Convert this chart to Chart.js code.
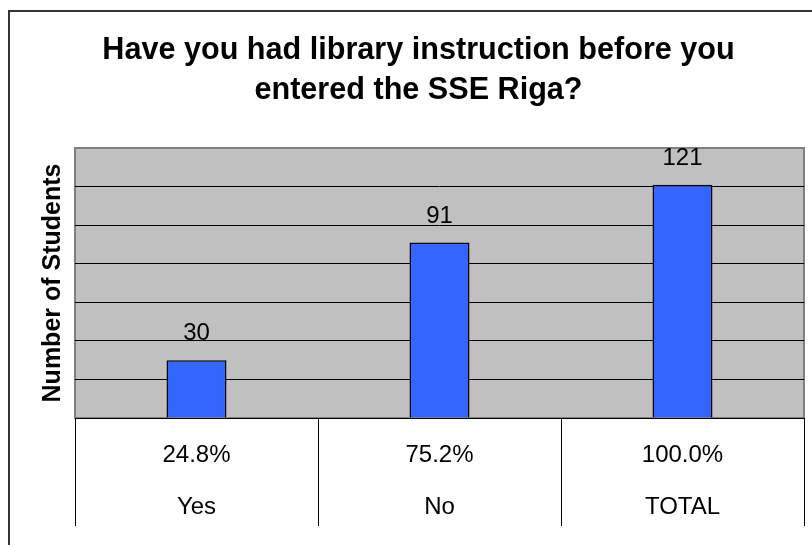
<!DOCTYPE html>
<html>
<head>
<meta charset="utf-8">
<title>Library instruction before SSE Riga</title>
<script src="https://cdn.jsdelivr.net/npm/chart.js@4.4.1/dist/chart.umd.min.js"></script>
<style>
  html, body { margin: 0; padding: 0; background: #fff; }
  canvas { display: block; }
</style>
</head>
<body>
<canvas id="graphique" width="812" height="545"></canvas>
<script>
const categories = ['Yes', 'No', 'TOTAL'];
const students = [30, 91, 121];
const shares = [24.8, 75.2, 100.0];
const yMax = 140;
const yStep = 20;

const FONT = '"Liberation Sans", Arial, sans-serif';

// gray plot area + the outer frame of the chart
const fond = {
    id: 'fond',
    beforeDraw(chart) {
        const ctx = chart.ctx;
        const a = chart.chartArea;
        ctx.save();
        ctx.fillStyle = '#fff';
        ctx.fillRect(0, 0, chart.width, chart.height);
        ctx.strokeStyle = '#333';
        ctx.lineWidth = 2;
        ctx.beginPath();
        ctx.moveTo(9, chart.height + 5);
        ctx.lineTo(9, 11);
        ctx.lineTo(chart.width + 5, 11);
        ctx.stroke();
        ctx.fillStyle = '#c0c0c0';
        ctx.fillRect(a.left, a.top, a.right - a.left, a.bottom - a.top);
        ctx.strokeStyle = '#808080';
        ctx.strokeRect(a.left, a.top, a.right - a.left, a.bottom - a.top);
        ctx.restore();
    }
};

// vertical separators of the data table under the axis
const separateurs = {
    id: 'separateurs',
    afterDraw(chart) {
        const ctx = chart.ctx;
        const x = chart.scales.x;
        const half = (x.getPixelForValue(1) - x.getPixelForValue(0)) / 2;
        ctx.save();
        ctx.strokeStyle = '#000';
        ctx.lineWidth = 1;
        for (let i = 0; i <= categories.length; i++) {
            const px = Math.round(x.getPixelForValue(i) - half) + 0.5;
            ctx.beginPath();
            ctx.moveTo(px, x.top);
            ctx.lineTo(px, x.top + 108);
            ctx.stroke();
        }
        ctx.restore();
    }
};

// numbers above the bars
const valeurs = {
    id: 'valeurs',
    afterDatasetsDraw(chart) {
        const ctx = chart.ctx;
        const meta = chart.getDatasetMeta(0);
        ctx.save();
        ctx.font = '24px ' + FONT;
        ctx.fillStyle = '#000';
        ctx.textAlign = 'center';
        ctx.textBaseline = 'alphabetic';
        meta.data.forEach((bar, i) => {
            ctx.fillText(students[i], bar.x, bar.y - 20);
        });
        ctx.restore();
    }
};

const ctx = document.getElementById('graphique').getContext('2d');
new Chart(ctx, {
    type: 'bar',
    data: {
        labels: categories.map((c, i) => [shares[i].toFixed(1) + '%', c]),
        datasets: [{
            label: 'Number of Students',
            data: students,
            backgroundColor: '#3366ff',
            borderColor: '#000',
            borderWidth: 1.5,
            barPercentage: 0.247,
            categoryPercentage: 1
        }]
    },
    options: {
        responsive: false,
        animation: false,
        layout: { padding: { left: 33, right: 8, top: 0, bottom: 0 } },
        plugins: {
            legend: { display: false },
            tooltip: { enabled: false },
            title: {
                display: true,
                text: ['Have you had library instruction before you', 'entered the SSE Riga?'],
                color: '#000',
                font: { family: FONT, size: 30.6, weight: 'bold', lineHeight: 40 / 30.6 },
                padding: { top: 30.4, bottom: 37.6 }
            }
        },
        scales: {
            x: {
                grid: { display: false, drawTicks: false },
                border: { display: true, color: '#000', width: 1 },
                ticks: {
                    color: '#000',
                    font: { family: FONT, size: 24, lineHeight: 52 / 24 },
                    padding: 11.7,
                    maxRotation: 0,
                    autoSkip: false
                },
                afterFit(scale) { scale.height = 127; }
            },
            y: {
                min: 0,
                max: yMax,
                ticks: { display: false, stepSize: yStep },
                grid: {
                    drawTicks: false,
                    color: c => (c.tick && c.tick.value === yMax) ? 'rgba(0,0,0,0)' : '#000',
                    lineWidth: 1
                },
                border: { display: false },
                title: {
                    display: true,
                    text: 'Number of Students',
                    color: '#000',
                    font: { family: FONT, size: 25, weight: 'bold', lineHeight: 1.2 },
                    padding: { top: 5.3, bottom: 0 }
                },
                afterFit(scale) { scale.width = 42; }
            }
        }
    },
    plugins: [fond, separateurs, valeurs]
});
</script>
</body>
</html>
